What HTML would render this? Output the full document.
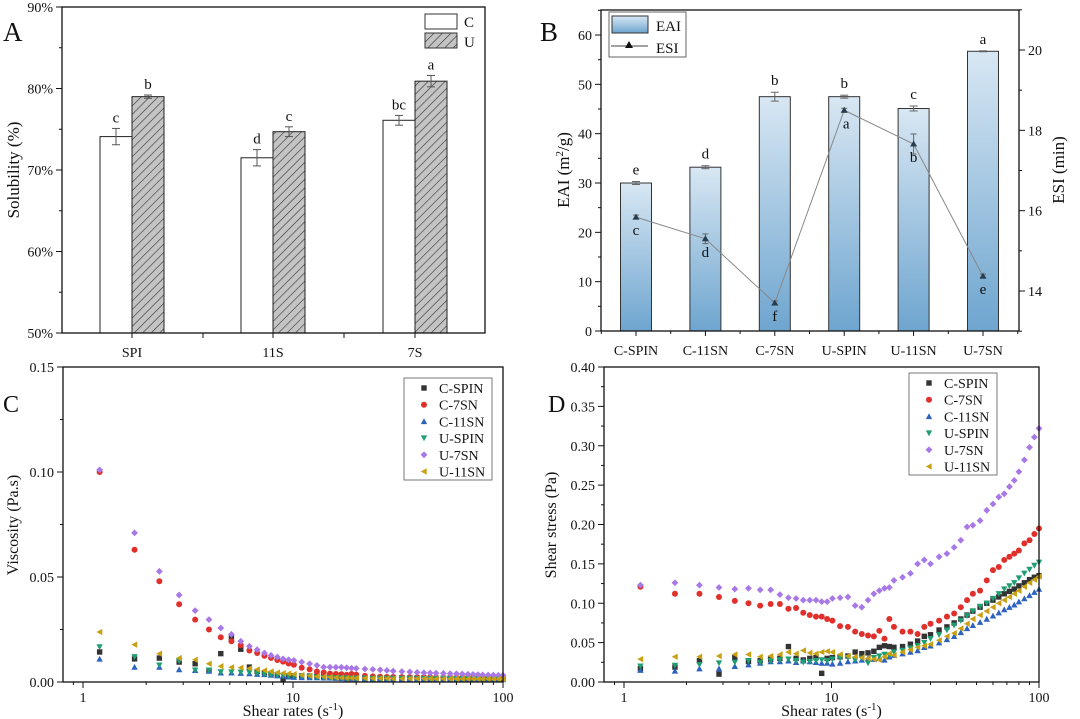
<!DOCTYPE html>
<html><head><meta charset="utf-8"><style>
html,body{margin:0;padding:0;background:#fff;}
svg{display:block;font-family:"Liberation Serif",serif;}
</style></head><body>
<svg id="fig" width="1080" height="719" viewBox="0 0 1080 719" xmlns="http://www.w3.org/2000/svg">
<defs>
<pattern id="hatch" patternUnits="userSpaceOnUse" width="6" height="6" patternTransform="rotate(45)">
<rect width="6" height="6" fill="#c4c4c4"/><line x1="0" y1="0" x2="0" y2="6" stroke="#333" stroke-width="1.2"/>
</pattern>
<linearGradient id="blueg" x1="0" y1="0" x2="0" y2="1">
<stop offset="0" stop-color="#d8e7f3"/><stop offset="1" stop-color="#6ea5cf"/>
</linearGradient>
</defs>
</svg>
<script>
// ---------- Panel A data ----------
const solCats = ["SPI","11S","7S"];
const solC = [74.1, 71.5, 76.1];
const solCErr = [1.0, 1.0, 0.6];
const solU = [79.0, 74.7, 80.9];
const solUErr = [0.2, 0.6, 0.7];
const solCLetters = ["c","d","bc"];
const solULetters = ["b","c","a"];
const solTicks = [50,60,70,80,90];
// ---------- Panel B data ----------
const emCats = ["C-SPIN","C-11SN","C-7SN","U-SPIN","U-11SN","U-7SN"];
const eai = [30.0, 33.2, 47.5, 47.5, 45.1, 56.7];
const eaiErr = [0.3, 0.3, 0.9, 0.3, 0.5, 0.1];
const eaiLetters = ["e","d","b","b","c","a"];
const esi = [15.84, 15.3, 13.7, 18.5, 17.66, 14.37];
const esiErr = [0.05, 0.12, 0.05, 0.05, 0.25, 0.05];
const esiLetters = ["c","d","f","a","b","e"];
const eaiTicks = [0,10,20,30,40,50,60];
const esiTicks = [14,16,18,20];
// ---------- Panels C/D data ----------
const shearRates = [1.2,1.76,2.31,2.87,3.42,3.98,4.53,5.09,5.64,6.2,6.75,7.31,7.86,8.42,8.97,9.53,10.1,11,12,13,14,15,16,17,18,19,20,22,24,26,28,30,33,36,39,42,45,48,52,56,60,64,68,72,76,80,85,90,95,100];
const seriesNames = ["C-SPIN","C-7SN","C-11SN","U-SPIN","U-7SN","U-11SN"];
const viscCSPIN = [0.0143,0.011,0.0114,0.0095,0.0087,0.0056,0.0135,0.021,0.0156,0.0071,0.005,0.0045,0.004,0.0035,0.0012,0.003,0.003,0.0029,0.0028,0.0029,0.0026,0.0025,0.0024,0.0026,0.0025,0.0024,0.0022,0.002,0.002,0.002,0.002,0.002,0.002,0.0019,0.0019,0.0019,0.0018,0.0018,0.0018,0.0018,0.0017,0.0017,0.0016,0.0016,0.0015,0.0015,0.0015,0.0014,0.0014,0.0014];
const viscC7SN = [0.100,0.063,0.048,0.037,0.0297,0.025,0.0213,0.0194,0.0175,0.015,0.0138,0.0125,0.0115,0.0105,0.0097,0.0088,0.0082,0.0068,0.006,0.005,0.0045,0.004,0.0038,0.0037,0.0034,0.0038,0.0035,0.0029,0.0027,0.0025,0.0024,0.0024,0.0023,0.0023,0.0022,0.0022,0.0022,0.0021,0.0021,0.0021,0.0021,0.0021,0.002,0.002,0.002,0.002,0.002,0.002,0.0019,0.0019];
const viscC11SN = [0.011,0.0071,0.0071,0.0059,0.0056,0.0052,0.0044,0.0044,0.0042,0.004,0.0037,0.0036,0.0033,0.003,0.0029,0.0025,0.0023,0.0022,0.0021,0.0021,0.002,0.002,0.0018,0.0017,0.0016,0.0016,0.0016,0.0015,0.0015,0.0015,0.0015,0.0015,0.0015,0.0015,0.0014,0.0014,0.0014,0.0014,0.0013,0.0013,0.0013,0.0013,0.0013,0.0012,0.0012,0.0012,0.0012,0.0012,0.0012,0.0012];
const viscUSPIN = [0.0167,0.012,0.008,0.01,0.0056,0.0056,0.0048,0.0047,0.0046,0.0045,0.004,0.0036,0.0033,0.0032,0.003,0.0029,0.0028,0.0027,0.0025,0.0022,0.002,0.0019,0.002,0.0019,0.0019,0.0018,0.0018,0.0018,0.0017,0.0017,0.0017,0.0017,0.0017,0.0017,0.0016,0.0016,0.0016,0.0016,0.0016,0.0016,0.0016,0.0016,0.0016,0.0015,0.0015,0.0015,0.0015,0.0015,0.0015,0.0015];
const viscU7SN = [0.101,0.071,0.0527,0.0414,0.034,0.0297,0.0257,0.0227,0.0194,0.017,0.0154,0.0138,0.0127,0.0119,0.011,0.0106,0.0103,0.0095,0.0087,0.0079,0.0071,0.0071,0.007,0.007,0.0068,0.0066,0.0065,0.0062,0.006,0.0058,0.0055,0.0052,0.005,0.0048,0.0046,0.0044,0.0043,0.0042,0.0041,0.004,0.0039,0.0038,0.0037,0.0036,0.0035,0.0034,0.0033,0.0033,0.0032,0.0032];
const viscU11SN = [0.0238,0.0178,0.0135,0.0114,0.0106,0.0087,0.0075,0.007,0.0068,0.0065,0.006,0.0055,0.005,0.0045,0.0042,0.004,0.0037,0.0033,0.003,0.0027,0.0025,0.0023,0.0021,0.002,0.0019,0.0019,0.0018,0.0018,0.0017,0.0017,0.0017,0.0016,0.0016,0.0016,0.0016,0.0016,0.0016,0.0015,0.0015,0.0015,0.0015,0.0015,0.0015,0.0015,0.0014,0.0014,0.0014,0.0014,0.0014,0.0014];
const stressCSPIN = [0.017,0.019,0.027,0.010,0.031,0.026,0.027,0.029,0.030,0.045,0.030,0.028,0.030,0.031,0.011,0.030,0.031,0.032,0.033,0.038,0.036,0.037,0.039,0.044,0.046,0.045,0.044,0.045,0.048,0.052,0.058,0.060,0.066,0.070,0.075,0.080,0.085,0.090,0.095,0.100,0.104,0.108,0.112,0.115,0.118,0.122,0.126,0.130,0.133,0.135];
const stressC7SN = [0.121,0.112,0.112,0.108,0.103,0.100,0.097,0.099,0.099,0.093,0.094,0.088,0.085,0.083,0.083,0.080,0.078,0.071,0.070,0.064,0.061,0.059,0.058,0.065,0.055,0.080,0.070,0.064,0.064,0.061,0.070,0.074,0.078,0.083,0.087,0.095,0.104,0.112,0.116,0.129,0.142,0.146,0.155,0.159,0.163,0.167,0.176,0.180,0.188,0.195];
const stressC11SN = [0.015,0.014,0.017,0.017,0.020,0.022,0.024,0.026,0.026,0.027,0.025,0.027,0.026,0.025,0.024,0.024,0.023,0.024,0.026,0.027,0.028,0.030,0.029,0.030,0.028,0.032,0.034,0.036,0.038,0.040,0.044,0.046,0.050,0.054,0.058,0.063,0.068,0.072,0.076,0.080,0.084,0.088,0.092,0.095,0.098,0.102,0.106,0.110,0.114,0.118];
const stressUSPIN = [0.020,0.021,0.022,0.024,0.025,0.027,0.025,0.027,0.028,0.029,0.027,0.025,0.026,0.027,0.028,0.027,0.029,0.030,0.031,0.028,0.030,0.024,0.031,0.033,0.035,0.034,0.038,0.040,0.043,0.046,0.050,0.055,0.060,0.066,0.072,0.078,0.084,0.090,0.096,0.100,0.106,0.112,0.118,0.122,0.126,0.132,0.138,0.143,0.148,0.152];
const stressU7SN = [0.123,0.126,0.123,0.120,0.118,0.119,0.117,0.117,0.111,0.107,0.106,0.104,0.104,0.104,0.102,0.102,0.106,0.107,0.108,0.097,0.095,0.104,0.112,0.116,0.119,0.120,0.129,0.133,0.138,0.150,0.155,0.150,0.159,0.163,0.171,0.180,0.197,0.199,0.205,0.218,0.226,0.235,0.239,0.248,0.256,0.267,0.282,0.298,0.311,0.322];
const stressU11SN = [0.029,0.032,0.032,0.033,0.035,0.035,0.032,0.033,0.035,0.038,0.036,0.040,0.037,0.036,0.038,0.039,0.038,0.035,0.033,0.032,0.031,0.030,0.029,0.028,0.032,0.036,0.034,0.038,0.041,0.044,0.046,0.048,0.053,0.058,0.062,0.068,0.074,0.080,0.085,0.090,0.095,0.100,0.104,0.108,0.112,0.116,0.121,0.126,0.130,0.134];
const viscTicks = [0,0.05,0.10,0.15];
const stressTicks = [0,0.05,0.10,0.15,0.20,0.25,0.30,0.35,0.40];
const logTicks = [1,10,100];

const NS="http://www.w3.org/2000/svg";
const svg=document.getElementById('fig');
function el(tag,attrs,parent,text){const e=document.createElementNS(NS,tag);for(const k in attrs)e.setAttribute(k,attrs[k]);if(text!==undefined)e.textContent=text;(parent||svg).appendChild(e);return e;}
function grp(name){const g=el('g',{});


return g;}
function txt(parent,name,x,y,s,size,anchor,extra){const t=el('text',Object.assign({x:x,y:y,'font-size':size,'text-anchor':anchor||'middle',fill:'#111'},extra||{}),parent,s);


return t;}
function line(p,x1,y1,x2,y2,c,w){return el('line',{x1:x1,y1:y1,x2:x2,y2:y2,stroke:c||'#111','stroke-width':w||1},p);}

// ================= Panel A =================
(function(){
const g=grp('panel-a-solubility-chart');
const L=62,R=485,T=7,B=333;
const y=v=>B-(v-50)/40*(B-T);
const cx=[132,273,415], bw=32;
txt(g,'panel-label-a',3,41,'A',27,'start');
for(let i=0;i<solCats.length;i++){
  const c=el('rect',{x:cx[i]-bw,y:y(solC[i]),width:bw,height:B-y(solC[i]),fill:'#fff',stroke:'#222','stroke-width':1},g);
  
  
  const u=el('rect',{x:cx[i],y:y(solU[i]),width:bw,height:B-y(solU[i]),fill:'url(#hatch)',stroke:'#222','stroke-width':1},g);
  
  
  [[cx[i]-bw/2,solC[i],solCErr[i],solCLetters[i]],[cx[i]+bw/2,solU[i],solUErr[i],solULetters[i]]].forEach(([x,v,e,l])=>{
    line(g,x,y(v+e),x,y(v-e),'#555',1);line(g,x-4,y(v+e),x+4,y(v+e),'#555',1);line(g,x-4,y(v-e),x+4,y(v-e),'#555',1);
    txt(g,'significance-letter',x,y(v+e)-6,l,15);
  });
  txt(g,'x-tick-label',cx[i],357,solCats[i],14);
}
el('rect',{x:L,y:T,width:R-L,height:B-T,fill:'none',stroke:'#111','stroke-width':1.3},g);
[132,203,273,344,415].forEach(x=>line(g,x,B,x,B+5));
for(let v=50;v<=90;v+=5){const yy=y(v);line(g,L,yy,L-(v%10==0?6:3),yy);}
solTicks.forEach(v=>txt(g,'y-tick-label',L-9,y(v)+5,v+'%',14,'end'));
txt(g,'y-axis-title',0,0,'Solubility (%)',17,'middle',{transform:'translate(19,170) rotate(-90)'});
const lg=grp('legend-a');g.appendChild(lg);
el('rect',{x:425,y:14,width:32,height:15,fill:'#fff',stroke:'#333'},lg);
el('rect',{x:425,y:33,width:32,height:15,fill:'url(#hatch)',stroke:'#333'},lg);
txt(lg,'legend-entry-c',464,27,'C',15,'start');
txt(lg,'legend-entry-u',464,47,'U',15,'start');
})();

// ================= Panel B =================
(function(){
const g=grp('panel-b-emulsifying-chart');
const L=601,R=1019,T=10,B=331;
const y=v=>B-v/60*(B-35);
const y2=v=>50+(20-v)/6*(291-50);
const cx0=636, step=69.4, bw=31;
txt(g,'panel-label-b',540,41,'B',27,'start');
const pts=[];
for(let i=0;i<emCats.length;i++){
  const x=cx0+i*step;
  const r=el('rect',{x:x-bw/2,y:y(eai[i]),width:bw,height:B-y(eai[i]),fill:'url(#blueg)',stroke:'#333','stroke-width':1},g);
  
  
  const e=eaiErr[i];
  line(g,x,y(eai[i]+e),x,y(eai[i]-e),'#666',1);line(g,x-4,y(eai[i]+e),x+4,y(eai[i]+e),'#666',1);line(g,x-4,y(eai[i]-e),x+4,y(eai[i]-e),'#666',1);
  txt(g,'eai-letter',x,y(eai[i]+e)-7,eaiLetters[i],15);
  pts.push([x,y2(esi[i])]);
  txt(g,'x-tick-label',x,355,emCats[i],14);
}
el('polyline',{points:pts.map(p=>p.join(',')).join(' '),fill:'none',stroke:'#888','stroke-width':1},g);
for(let i=0;i<pts.length;i++){
  const [x,yy]=pts[i];const e=esiErr[i];
  line(g,x,y2(esi[i]+e),x,y2(esi[i]-e),'#666',1);line(g,x-3,y2(esi[i]+e),x+3,y2(esi[i]+e),'#666',1);line(g,x-3,y2(esi[i]-e),x+3,y2(esi[i]-e),'#666',1);
  const m=el('polygon',{points:`${x},${yy-3.5} ${x-3.5},${yy+2.5} ${x+3.5},${yy+2.5}`,fill:'#2a3d4f'},g);
  
  
  txt(g,'esi-letter',x+(i==3?2:0),yy+18,esiLetters[i],15);
}
el('rect',{x:L,y:T,width:R-L,height:B-T,fill:'none',stroke:'#111','stroke-width':1.3},g);
for(let v=0;v<=65;v+=5){line(g,L,y(v),L-(v%10==0?6:3),y(v));}
eaiTicks.forEach(v=>txt(g,'y-tick-label-left',L-9,y(v)+5,v,14,'end'));
for(let v=13;v<=21;v+=1){line(g,R,y2(v),R+(v%2==0?6:3),y2(v));}
esiTicks.forEach(v=>txt(g,'y-tick-label-right',R+9,y2(v)+5,v,14,'start'));
for(let i=0;i<=6;i++){const x=cx0+(i-0.5)*step;line(g,x,B,x,B+3);}
for(let i=0;i<6;i++){line(g,cx0+i*step,B,cx0+i*step,B+5);}
const t=txt(g,'y-axis-title-left',0,0,'',17,'middle',{transform:'translate(569,170) rotate(-90)'});
t.innerHTML='EAI (m<tspan dy="-6" font-size="11">2</tspan><tspan dy="6">/g)</tspan>';
txt(g,'y-axis-title-right',0,0,'ESI (min)',17,'middle',{transform:'translate(1064,170) rotate(-90)'});
const lg=grp('legend-b');g.appendChild(lg);
el('rect',{x:609,y:12,width:77,height:45,fill:'#fff',stroke:'#666'},lg);
el('rect',{x:612,y:16,width:36,height:17,fill:'url(#blueg)',stroke:'#333'},lg);
line(lg,611,46,648,46,'#444',1);
el('polygon',{points:'629,41 625,48 633,48',fill:'#111'},lg);
txt(lg,'legend-entry-eai',656,31,'EAI',15,'start');
txt(lg,'legend-entry-esi',656,53,'ESI',15,'start');
})();

// ================= Panels C & D =================
const colors=['#333333','#e0302c','#2e62c0','#1f9e72','#a878e6','#c9a012'];
function marker(p,k,x,y,name){
  const s=2.7;let m;
  if(k==0)m=el('rect',{x:x-s,y:y-s,width:2*s,height:2*s,fill:colors[k]},p);
  else if(k==1)m=el('circle',{cx:x,cy:y,r:s+0.3,fill:colors[k]},p);
  else if(k==2)m=el('polygon',{points:`${x},${y-s-0.5} ${x-s-0.5},${y+s} ${x+s+0.5},${y+s}`,fill:colors[k]},p);
  else if(k==3)m=el('polygon',{points:`${x},${y+s+0.5} ${x-s-0.5},${y-s} ${x+s+0.5},${y-s}`,fill:colors[k]},p);
  else if(k==4)m=el('polygon',{points:`${x},${y-s-0.7} ${x-s-0.7},${y} ${x},${y+s+0.7} ${x+s+0.7},${y}`,fill:colors[k]},p);
  else m=el('polygon',{points:`${x-s-0.5},${y} ${x+s},${y-s-0.5} ${x+s},${y+s+0.5}`,fill:colors[k]},p);
  
  
  return m;
}
function rheoPanel(cfg){
  const g=grp(cfg.name);
  const {L,R,T,B,x1,dec,ymax,ticks,series,leg}=cfg;
  const x=v=>x1+Math.log10(v)*dec;
  const y=v=>B-v/ymax*(B-T);
  txt(g,'panel-label-'+cfg.letter.toLowerCase(),cfg.lx,412,cfg.letter,24,'start');
  series.forEach((arr,k)=>{
    const sg=grp('series-'+seriesNames[k].toLowerCase());g.appendChild(sg);
    arr.forEach((v,i)=>{const yy=Math.max(T,Math.min(B,y(v)));marker(sg,k,x(shearRates[i]),yy,'point-'+seriesNames[k].toLowerCase());});
  });
  el('rect',{x:L,y:T,width:R-L,height:B-T,fill:'none',stroke:'#111','stroke-width':1.3},g);
  for(let d=0;d<=2;d++)for(let m=1;m<=9;m++){const v=Math.pow(10,d)*m;if(v>100)break;const xx=x(v);if(xx<L)continue;line(g,xx,B,xx,B+(m==1?6:3));}
  line(g,x(0.9),B,x(0.9),B+3);
  logTicks.forEach(v=>txt(g,'x-tick-label',x(v),702,v,14));
  const minor=ticks[1]/2;
  for(let v=0;v<=ymax+1e-9;v+=minor){const big=Math.abs(v/ticks[1]-Math.round(v/ticks[1]))<1e-6;line(g,L,y(v),L-(big?6:3),y(v));}
  ticks.forEach(v=>txt(g,'y-tick-label',L-9,y(v)+5,v.toFixed(2),14,'end'));
  txt(g,'x-axis-title',(L+R)/2+10,716,'',16).innerHTML='Shear rates (s<tspan dy="-6" font-size="11">-1</tspan><tspan dy="6">)</tspan>';
  txt(g,'y-axis-title',0,0,cfg.ytitle,16,'middle',{transform:`translate(${cfg.ytx},525) rotate(-90)`});
  const lg=grp('legend-'+cfg.letter.toLowerCase());g.appendChild(lg);
  el('rect',{x:leg.x,y:leg.y,width:88,height:102,fill:'#fff',stroke:'#777'},lg);
  seriesNames.forEach((n,k)=>{const yy=leg.y+10+k*16.7;marker(lg,k,leg.x+20,yy,'legend-marker');
    txt(lg,'legend-entry-'+n.toLowerCase(),leg.x+35,yy+5,n,14,'start');});
}
rheoPanel({name:'panel-c-viscosity-chart',letter:'C',lx:3,L:63,R:503,T:367,B:682,x1:83,dec:210,ymax:0.15,ticks:viscTicks,
  series:[viscCSPIN,viscC7SN,viscC11SN,viscUSPIN,viscU7SN,viscU11SN],ytitle:'Viscosity (Pa.s)',ytx:18,leg:{x:404,y:378}});
rheoPanel({name:'panel-d-shear-stress-chart',letter:'D',lx:548,L:604,R:1039,T:367,B:682,x1:624,dec:207.5,ymax:0.4,ticks:stressTicks,
  series:[stressCSPIN,stressC7SN,stressC11SN,stressUSPIN,stressU7SN,stressU11SN],ytitle:'Shear stress (Pa)',ytx:556,leg:{x:909,y:373}});
</script>
</body></html>
